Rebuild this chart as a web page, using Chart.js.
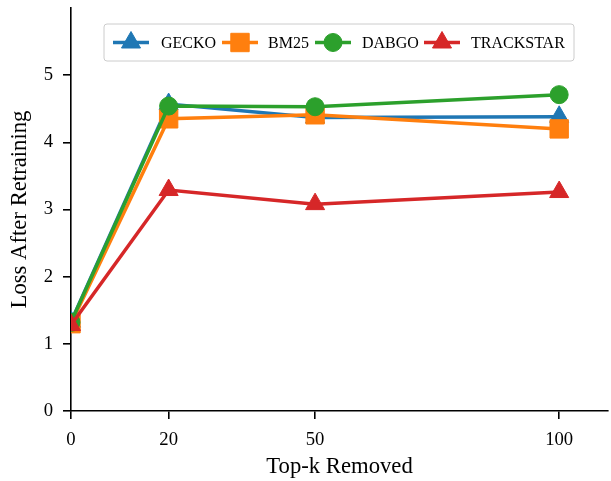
<!DOCTYPE html>
<html>
<head>
<meta charset="utf-8">
<script src="https://cdn.jsdelivr.net/npm/chart.js@4.4.1/dist/chart.umd.min.js"></script>
<style>
  html, body { margin: 0; padding: 0; background: #fff; }
  #wrap { width: 611px; height: 481px; }
</style>
</head>
<body>
<div id="wrap"><canvas id="chart" width="611" height="481"></canvas></div>
<script>
// valeurs
const kValues = [0, 20, 50, 100];
const yTicks = [0, 1, 2, 3, 4, 5];
const gecko = [1.33, 4.57, 4.37, 4.38];
const bm25 = [1.30, 4.35, 4.41, 4.20];
const dabgo = [1.32, 4.54, 4.53, 4.71];
const trackstar = [1.28, 3.29, 3.08, 3.26];

const SERIF = '"Liberation Serif", "DejaVu Serif", serif';

const series = [
  { label: 'GECKO', data: gecko, color: '#1f77b4', style: 'triangle', radius: 11, order: 4 },
  { label: 'BM25', data: bm25, color: '#ff7f0e', style: 'rect', radius: 13, order: 3 },
  { label: 'DABGO', data: dabgo, color: '#2ca02c', style: 'circle', radius: 9, order: 2 },
  { label: 'TRACKSTAR', data: trackstar, color: '#d62728', style: 'triangle', radius: 11, order: 1 },
];

// légende dessinée à la main, dans la zone du graphique
const legendBox = {
  id: 'legendBox',
  afterDatasetsDraw(chart) {
    const ctx = chart.ctx;
    const x0 = 104, y0 = 24, w = 470, h = 37, cy = y0 + h / 2;
    ctx.save();
    ctx.beginPath();
    ctx.roundRect(x0, y0, w, h, 3);
    ctx.fillStyle = 'rgba(255,255,255,0.8)';
    ctx.fill();
    ctx.strokeStyle = '#cccccc';
    ctx.lineWidth = 1;
    ctx.stroke();
    const handles = [113, 222, 315, 424];
    const texts = [161, 268, 362, 471];
    ctx.font = '16px ' + SERIF;
    ctx.textBaseline = 'alphabetic';
    series.forEach((s, i) => {
      ctx.strokeStyle = s.color;
      ctx.lineWidth = 3.5;
      ctx.beginPath();
      ctx.moveTo(handles[i], cy);
      ctx.lineTo(handles[i] + 36, cy);
      ctx.stroke();
      ctx.fillStyle = s.color;
      ctx.strokeStyle = s.color;
      ctx.lineWidth = 1;
      Chart.helpers.drawPoint(ctx, { pointStyle: s.style, radius: s.radius, rotation: 0, borderWidth: 1 }, handles[i] + 18, cy);
      ctx.fillStyle = '#000';
      ctx.fillText(s.label, texts[i], cy + 5.5);
    });
    ctx.restore();
  }
};

new Chart(document.getElementById('chart').getContext('2d'), {
  type: 'line',
  data: {
    datasets: series.map((s) => ({
      label: s.label,
      data: s.data.map((v, i) => ({ x: kValues[i], y: v })),
      borderColor: s.color,
      backgroundColor: s.color,
      pointBackgroundColor: s.color,
      pointBorderColor: s.color,
      pointStyle: s.style,
      pointRadius: s.radius,
      pointHoverRadius: s.radius,
      pointBorderWidth: 1,
      borderWidth: 3.5,
      tension: 0,
      order: s.order,
      clip: 0,
    }))
  },
  options: {
    responsive: false,
    animation: false,
    devicePixelRatio: 1,
    layout: { autoPadding: false, padding: { top: 8, right: 3, left: 0, bottom: 0 } },
    plugins: { legend: { display: false }, tooltip: { enabled: false } },
    scales: {
      x: {
        type: 'linear',
        min: 0,
        max: 110,
        afterBuildTicks: (axis) => { axis.ticks = kValues.map((v) => ({ value: v })); },
        afterFit: (axis) => { axis.height = 70; axis.paddingLeft = 0; axis.paddingRight = 0; },
        grid: { display: true, drawOnChartArea: false, drawTicks: true, tickLength: 8, color: '#000', lineWidth: 1.6 },
        border: { display: true, color: '#000', width: 1.6 },
        ticks: { color: '#000', font: { family: SERIF, size: 18.7 }, padding: 10, maxRotation: 0 },
        title: { display: true, text: 'Top-k Removed', color: '#000', font: { family: SERIF, size: 22.7 }, padding: { top: 0, bottom: 0 } },
      },
      y: {
        min: 0,
        max: 6,
        afterBuildTicks: (axis) => { axis.ticks = yTicks.map((v) => ({ value: v })); },
        afterFit: (axis) => { axis.width = 71; axis.paddingTop = 0; axis.paddingBottom = 0; },
        grid: { display: true, drawOnChartArea: false, drawTicks: true, tickLength: 8, color: '#000', lineWidth: 1.6 },
        border: { display: true, color: '#000', width: 1.6 },
        ticks: { color: '#000', font: { family: SERIF, size: 18.7 }, padding: 10 },
        title: { display: true, text: 'Loss After Retraining', color: '#000', font: { family: SERIF, size: 22.7 }, padding: { top: 6, bottom: 0 } },
      }
    }
  },
  plugins: [legendBox]
});
</script>
</body>
</html>
